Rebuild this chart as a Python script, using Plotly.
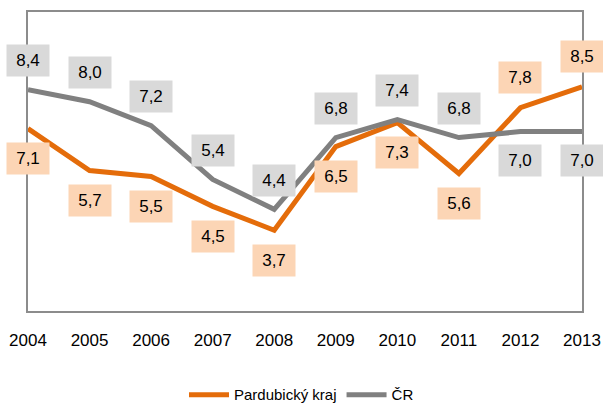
import plotly.graph_objects as go

years = [2004, 2005, 2006, 2007, 2008, 2009, 2010, 2011, 2012, 2013]
pardubicky = [7.1, 5.7, 5.5, 4.5, 3.7, 6.5, 7.3, 5.6, 7.8, 8.5]
cr = [8.4, 8.0, 7.2, 5.4, 4.4, 6.8, 7.4, 6.8, 7.0, 7.0]
# label placement: +1 above, -1 below
pard_pos = [-1, -1, -1, -1, -1, -1, -1, -1, 1, 1]
cr_pos = [1, 1, 1, 1, 1, 1, 1, 1, -1, -1]

ORANGE = "#E46C0A"
GRAY = "#808080"
ORANGE_BG = "#FCD5B5"
GRAY_BG = "#D9D9D9"
FONT = "Liberation Sans, Arial"

fig = go.Figure()
fig.add_trace(go.Scatter(x=years, y=pardubicky, mode="lines", name="Pardubický kraj",
                         line=dict(color=ORANGE, width=5), cliponaxis=False))
fig.add_trace(go.Scatter(x=years, y=cr, mode="lines", name="ČR",
                         line=dict(color=GRAY, width=5), cliponaxis=False))

def fmt(v):
    return f"{v:.1f}".replace(".", ",")

anns = []
for x, v, p in zip(years, cr, cr_pos):
    anns.append(dict(x=x, y=v, xref="x", yref="y", text=fmt(v), showarrow=False,
                     bgcolor=GRAY_BG, width=40, height=29, yshift=29 * p,
                     font=dict(family=FONT, size=17, color="#000")))
for x, v, p in zip(years, pardubicky, pard_pos):
    anns.append(dict(x=x, y=v, xref="x", yref="y", text=fmt(v), showarrow=False,
                     bgcolor=ORANGE_BG, width=40, height=29, yshift=30 * p,
                     font=dict(family=FONT, size=17, color="#000")))

fig.update_layout(
    width=603, height=405,
    margin=dict(l=28, r=21, t=12, b=94),
    paper_bgcolor="white", plot_bgcolor="white",
    font=dict(family=FONT, size=16, color="#000"),
    annotations=anns,
    showlegend=True,
    legend=dict(orientation="h", x=0.5, xanchor="center", xref="container",
                y=0.025, yanchor="middle", yref="container",
                font=dict(size=15), itemwidth=40),
    xaxis=dict(range=[2004, 2013], tickvals=years, ticktext=[str(y) for y in years],
               showgrid=False, zeroline=False, showline=True, mirror=True,
               linecolor="#8C8C8C", linewidth=2, ticks="outside", ticklen=13,
               tickcolor="rgba(0,0,0,0)", tickfont=dict(size=17), automargin=False),
    yaxis=dict(range=[1, 11], showgrid=False, zeroline=False, showline=True, mirror=True,
               linecolor="#8C8C8C", linewidth=2, showticklabels=False, ticks="",
               automargin=False),
)

fig.write_html("out.html", config=dict(displayModeBar=False),
               post_script="document.body.style.margin='0';")
